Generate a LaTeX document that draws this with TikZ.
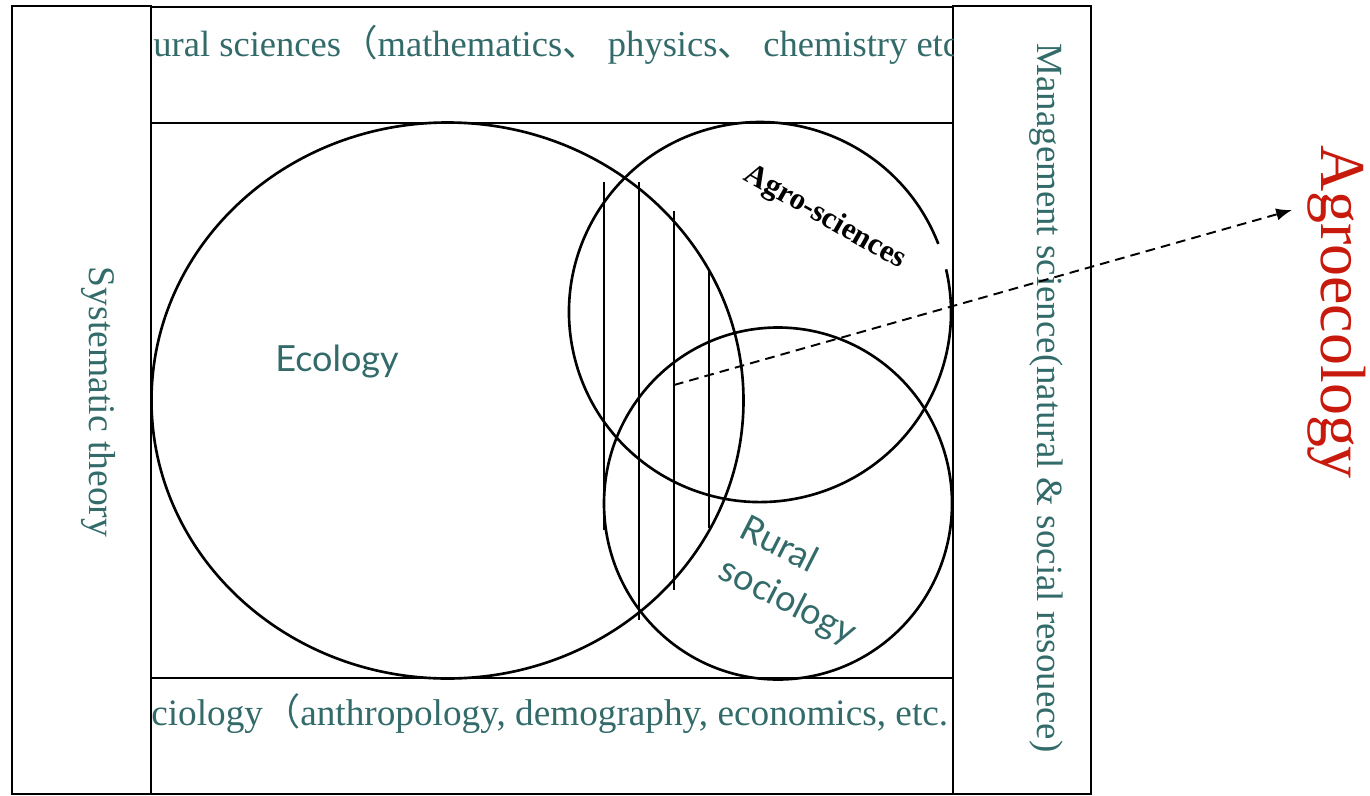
\documentclass[tikz,border=0pt]{standalone}
\usepackage{fontspec}
\setmainfont{Liberation Serif}
\newfontfamily\humanist{Lato}
\newfontfamily\cjk{Noto Sans CJK SC}
\usepackage{tikz}
\usetikzlibrary{arrows.meta, positioning, calc}
\usepackage{xcolor}
\definecolor{tealtext}{HTML}{326B69}
\definecolor{redtitle}{HTML}{C8190D}

\begin{document}
\begin{tikzpicture}[x=0.02cm, y=-0.02cm,
    panel/.style={draw=black, line width=0.85pt},
    ring/.style={draw=black, line width=1.5pt},
    hatch/.style={draw=black, line width=1.1pt},
    bandtext/.style={text=tealtext, font=\fontsize{21}{25}\selectfont, inner sep=0pt},
    sidetext/.style={bandtext, rotate=-90},
    circtext/.style={text=tealtext, font=\humanist\fontsize{20.5}{26.2}\selectfont, inner sep=0pt}]
\fill[white] (0,0) rectangle (1370,795);
\useasboundingbox (0,0) rectangle (1370,795);

% frame of the disciplines
\draw[panel] (12,6) rectangle (151,794);
\draw[panel] (151,7) rectangle (953,123);
\draw[panel] (151,123) rectangle (953,678);
\draw[panel] (151,678) rectangle (953,794);
\draw[panel] (953,6) rectangle (1091,794);

% band texts, cut by their boxes
\begin{scope}
  \clip (151,7) rectangle (953,123);
  \node[bandtext, font=\fontsize{20.8}{25}\selectfont, anchor=base west] (natsci) at (153,56) {ural sciences{\cjk （}mathematics{\cjk 、} physics{\cjk 、} chemistry etc};
\end{scope}
\begin{scope}
  \clip (151,678) rectangle (953,794);
  \node[bandtext, font=\fontsize{21.2}{25}\selectfont, anchor=base west] (socsci) at (151,725) {ciology{\cjk （}anthropology, demography, economics, etc.};
\end{scope}
\node[sidetext, font=\fontsize{21.4}{25}\selectfont] (systheory) at (98,402) {Systematic theory};
\node[sidetext] (mgmt) at (1046,398) {Management science(natural \& social resouece)};

% the three fields
\draw[ring] (447.5,400.5) ellipse [x radius=296, y radius=278];
\draw[ring] (946.1,269.3) arc [start angle=-13, end angle=339, x radius=191, y radius=190];
\draw[ring] (778,503.5) ellipse [x radius=174, y radius=176];

% overlap hatching
\foreach \hx/\htop/\hbot in {604/182/530, 639/182/620, 674/211/590, 709/270/528}
  \draw[hatch] (\hx,\htop) -- (\hx,\hbot);

\node[circtext] (ecology) at (337,362) {Ecology};
\node[font=\bfseries\fontsize{17.5}{20}\selectfont, rotate=-29.5, inner sep=0pt] (agrosci) at (825,218) {Agro-sciences};
\node[circtext, rotate=-27, align=left] (rural) at (798,582) {Rural\\sociology};

% result
\node[text=redtitle, font=\fontsize{36.4}{40}\selectfont, rotate=-90, inner sep=0pt] (agroeco) at (1337,312) {Agroecology};
\coordinate (hatchmid) at (674,385);
\coordinate (agrotip) at (1292,210);
\draw[line width=1.1pt, dash pattern=on 5.5pt off 3.5pt, -{Latex[length=9pt, width=7pt]}] (hatchmid) -- (agrotip);
\end{tikzpicture}
\end{document}
